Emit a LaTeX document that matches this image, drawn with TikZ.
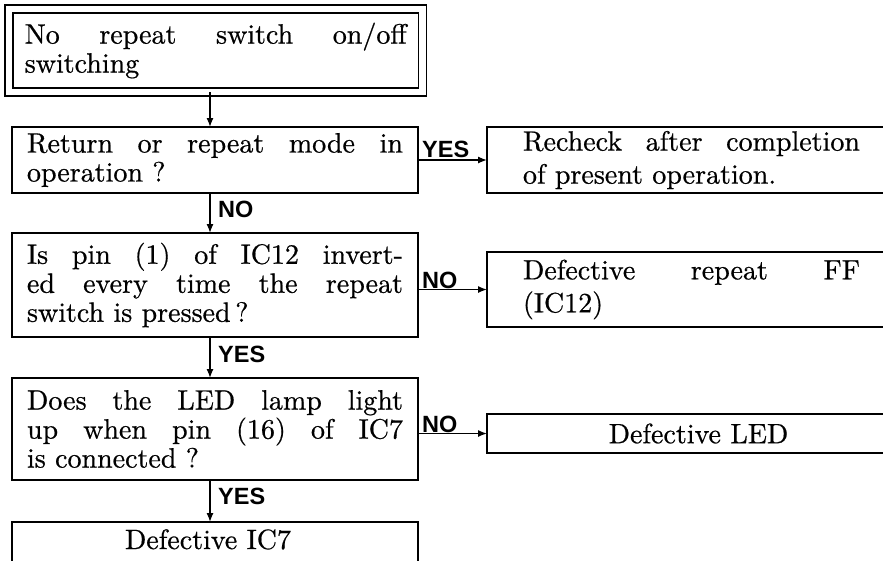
\documentclass[tikz,border=0pt]{standalone}
\usepackage{fontspec}
\setmainfont{lmroman10-regular.otf}[FakeBold=0.6]
\newfontfamily\lblfont{Liberation Sans}
\usetikzlibrary{arrows.meta}
\tolerance=10000
\hbadness=10000
\hyphenpenalty=10000
\tikzset{
  box/.style={draw, line width=1.4pt, rectangle, inner sep=0pt, outer sep=0pt,
    align=justify, font=\fontsize{28}{29}\selectfont},
  lbox/.style={box, minimum width=406pt, text width=376pt},
  rbox/.style={box, minimum width=409pt, text width=337pt, font=\fontsize{28}{33}\selectfont},
  arr/.style={line width=1.3pt, -{Latex[length=9pt,width=7pt]}},
  lbl/.style={inner sep=0pt, font=\lblfont\bfseries\fontsize{23.5}{23.5}\selectfont}
}
\begin{document}
\begin{tikzpicture}[x=1pt,y=-1pt]
\clip (0,0) rectangle (883,560);
\fill[white] (0,0) rectangle (883,560);
% left column
\node[box, double, double distance=6.4pt, line width=1.6pt, minimum width=413.5pt,
  minimum height=83pt, text width=382pt] (b1) at (215.75,50.5)
  {No repeat switch on/off\linebreak switching};
\node[lbox, minimum height=66pt] (b2) at (215,160)
  {Return or repeat mode in\linebreak operation~?};
\node[lbox, minimum height=104pt] (b3) at (215,285)
  {Is pin (1) of IC12 invert-\linebreak ed every time the repeat\linebreak switch is pressed\,?};
\node[lbox, minimum height=102pt] (b4) at (215,429)
  {Does the LED lamp light\linebreak up when pin (16) of IC7\linebreak is connected~?};
\node[lbox, anchor=north, align=center, inner ysep=8pt, text height=19pt, text depth=8pt] (b5) at (215,522)
  {\hspace*{-14pt}Defective IC7};
% right column
\node[rbox, minimum height=66pt] (r1) at (691.5,160)
  {Recheck after completion\linebreak of present operation.};
\node[rbox, minimum height=75pt] (r2) at (691.5,289.5)
  {Defective repeat FF\linebreak (IC12)};
\node[rbox, minimum height=39pt, align=center] (r3) at (691.5,433.5)
  {\hspace*{14pt}Defective LED};
% vertical connectors
\draw[arr] ([xshift=-5.75pt]b1.south) -- ([xshift=-5pt]b2.north);
\draw[arr] ([xshift=-5pt]b2.south) -- ([xshift=-5pt]b3.north);
\draw[arr] ([xshift=-5pt]b3.south) -- ([xshift=-5pt]b4.north);
\draw[arr] ([xshift=-5pt]b4.south) -- ([xshift=-5pt]b5.north);
% horizontal connectors
\draw[arr] (b2.east |- r1.west) -- (r1.west);
\draw[arr] (b3.east |- r2.west) -- (r2.west);
\draw[arr] (b4.east |- r3.west) -- (r3.west);
% labels
\node[lbl, anchor=south west] (l1) at ([xshift=4pt,yshift=2pt]b2.east |- r1.west) {YES};
\node[lbl, anchor=south west] (l2) at ([xshift=4pt,yshift=1pt]b3.east |- r2.west) {NO};
\node[lbl, anchor=south west] (l3) at ([xshift=4pt,yshift=1pt]b4.east |- r3.west) {NO};
\node[lbl, anchor=north west] (l4) at ([xshift=3pt,yshift=-8pt]b2.south) {NO};
\node[lbl, anchor=north west] (l5) at ([xshift=3pt,yshift=-9pt]b3.south) {YES};
\node[lbl, anchor=north west] (l6) at ([xshift=3pt,yshift=-8pt]b4.south) {YES};
\end{tikzpicture}
\end{document}
